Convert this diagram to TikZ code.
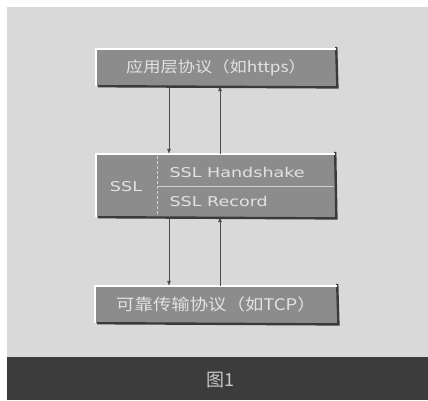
\documentclass[tikz,border=0pt]{standalone}
\usepackage{fontspec}
\setmainfont{DejaVu Sans}
\newfontfamily\cjk{Noto Sans CJK SC}
\newfontfamily\cjkwide[FakeStretch=1.15]{Noto Sans CJK SC}
\newfontfamily\latwide[FakeStretch=1.3]{DejaVu Sans}
\usetikzlibrary{arrows.meta}
\definecolor{bgpaper}{HTML}{D9D9D9}
\definecolor{band}{HTML}{3C3C3C}
\definecolor{boxfill}{HTML}{8C8C8C}
\definecolor{boxtext}{HTML}{E2E2E2}
\definecolor{shadowc}{HTML}{3A3A3A}
\definecolor{linec}{HTML}{4A4A4A}
\tikzset{
  layerbox/.style={fill=boxfill, draw=none, inner sep=0pt, text=boxtext},
  hilite/.style={draw=white, line width=1.6pt},
  shade/.style={draw=shadowc, line width=2.4pt},
  conn/.style={draw=linec, line width=0.6pt, -{Latex[length=5pt,width=4pt]}},
  divider/.style={draw=boxtext!80!boxfill, line width=0.6pt},
  ssltext/.style={text=boxtext, font=\latwide\fontsize{13.5}{13.5}\selectfont},
}
\begin{document}
\begin{tikzpicture}[x=1pt,y=-1pt]
\useasboundingbox (0,0) rectangle (428,400);
\fill[white] (0,0) rectangle (428,400);
\fill[bgpaper] (7,7) rectangle (428,357);
\fill[band] (7,357) rectangle (428,400);

% top box
\node[layerbox, minimum width=240pt, minimum height=37pt] (app) at (216,67.5)
  {\cjkwide\fontsize{15}{15}\selectfont 应用层协议（如https）};
% middle box
\node[layerbox, minimum width=239pt, minimum height=63pt] (ssl) at (215.5,185.5) {};
% bottom box
\node[layerbox, minimum width=242pt, minimum height=37pt] (tcp) at (216,304.5)
  {\cjkwide\fontsize{16}{16}\selectfont 可靠传输协议（如TCP）};

% bevels
\foreach \b in {app,ssl,tcp}{
  \draw[shade] ([xshift=2pt]\b.south west) -- ([xshift=1.2pt,yshift=-1.2pt]\b.south east) -- ([yshift=2pt]\b.north east);
  \draw[hilite] (\b.south west) -- (\b.north west) -- (\b.north east);
}

% SSL internals
\coordinate (dtop) at (157,156);
\coordinate (dbot) at (157,215);
\draw[divider, densely dashed] (dtop) -- (dbot);
\coordinate (hl) at (157,186);
\coordinate (hr) at (334,186);
\draw[divider] (hl) -- (hr);
\node[ssltext] (ssllab) at (126,187) {SSL};
\node[ssltext, anchor=west] (hs) at (166,172) {SSL Handshake};
\node[ssltext, anchor=west] (rec) at (166,201) {SSL Record};

% connectors
\draw[conn] ([xshift=-47pt]app.south) -- ([xshift=-46.5pt]ssl.north);
\draw[conn] ([xshift=4.5pt]ssl.north) -- ([xshift=4pt]app.south);
\draw[conn] ([xshift=-46.5pt]ssl.south) -- ([xshift=-47pt]tcp.north);
\draw[conn] ([xshift=4pt]tcp.north) -- ([xshift=4.5pt]ssl.south);

% caption
\node[text=boxtext!85!band, font=\cjk\fontsize{18}{18}\selectfont] (cap) at (220,380) {图1};
\end{tikzpicture}
\end{document}
